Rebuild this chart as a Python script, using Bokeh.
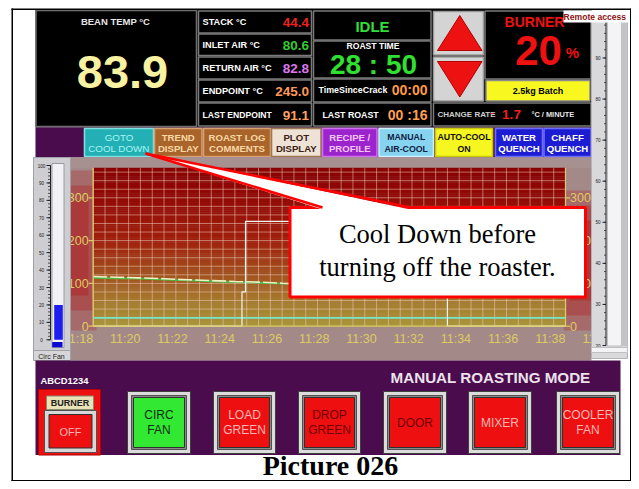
import numpy as np
from bokeh.plotting import figure
from bokeh.models import Range1d
from bokeh.embed import file_html
from bokeh.resources import INLINE
from bokeh.core.properties import value

# ---------------- data ----------------
trend_tick_minutes = [678, 680, 682, 684, 686, 688, 690, 692, 694, 696, 698, 700]
trend_tick_labels = ["11:18", "11:20", "11:22", "11:24", "11:26", "11:28",
                     "11:30", "11:32", "11:34", "11:36", "11:38", "11:40"]
temp_ticks = [0, 100, 200, 300]
temp_tick_labels = ["0", "100", "200", "300"]

bean_time = [678.0, 679.0, 680.0, 681.0, 682.0, 683.0, 684.0, 685.0, 686.0,
             687.0, 688.0, 690.0, 692.0, 694.0, 696.0, 698.0]
bean_temp = [116, 114.5, 113, 111, 108.5, 106.5, 104.5, 103, 100.5, 98.5,
             97, 94, 91, 88, 86, 84]
inlet_temp = [113, 112, 111, 109, 107, 105, 103, 101.5, 99.5, 98,
              96, 93, 89, 86, 83, 80.6]
fan_time = [678.0, 698.0]
fan_level = [19.5, 19.5]
setpoint_time = [678.0, 684.3, 684.3, 684.45, 684.45, 693.0, 693.0, 698.0]
setpoint_temp = [0, 0, 80, 80, 245, 245, 0, 0]

readout_labels = ["STACK °C", "INLET AIR °C", "RETURN AIR °C", "ENDPOINT °C", "LAST ENDPOINT"]
readout_values = ["44.4", "80.6", "82.8", "245.0", "91.1"]
readout_colors = ["#ee2020", "#33cc33", "#dd77ee", "#ff9955", "#ffa060"]

bean_temp_now = "83.9"
roast_state = "IDLE"
roast_time = "28 : 50"
time_since_crack = "00:00"
last_roast = "00 :16"
burner_percent = "20"
batch_label = "2.5kg Batch"
change_rate = "1.7"

top_buttons = ["GOTO\nCOOL DOWN", "TREND\nDISPLAY", "ROAST LOG\nCOMMENTS", "PLOT\nDISPLAY",
               "RECIPE /\nPROFILE", "MANUAL\nAIR-COOL", "AUTO-COOL\nON", "WATER\nQUENCH", "CHAFF\nQUENCH"]
bottom_buttons = ["CIRC\nFAN", "LOAD\nGREEN", "DROP\nGREEN", "DOOR", "MIXER", "COOLER\nFAN"]

circ_fan_percent = 20
left_gauge_ticks = [0, 10, 20, 30, 40, 50, 60, 70, 80, 90, 100]
right_gauge_ticks = [20, 30, 40, 50, 60, 70, 80, 90, 100]

# ---------------- layout / style ----------------
W, H = 631, 481
X0, X1, Y0, Y1 = 0, 631, 0, 481
FONT = value("Liberation Sans")
SERIF = value("Liberation Serif")

# chart placement (page pixels)
PL, PR, PB = 92.7, 565.0, 325.7
T0, T1 = 678.0, 698.0
PPM = (PR - PL) / (T1 - T0)
PPV = 0.428
VMAX = 370.0

p = figure(width=W, height=H, x_range=Range1d(X0, X1), y_range=Range1d(Y1, Y0),
           output_backend="svg", toolbar_location=None, min_border=0,
           x_axis_location=None, y_axis_location=None)
p.grid.visible = False
p.outline_line_color = None
p.background_fill_color = "white"
p.border_fill_color = "white"

p.extra_x_ranges = {"t": Range1d(T0 - (PL - X0) / PPM, T0 + (X1 - PL) / PPM)}
p.extra_y_ranges = {
    "v": Range1d((PB - Y1) / PPV, (PB - Y0) / PPV),
    "gl": Range1d((339.3 - Y1) / 1.743, (339.3 - Y0) / 1.743),
    "gr": Range1d(20 - (Y1 - 345.0) / 4.1075, 20 + (345.0 - Y0) / 4.1075),
}


def box(l, r, t, b, fill, line=None, lw=1.0, alpha=1.0):
    p.quad(left=[l], right=[r], top=[t], bottom=[b], fill_color=fill, fill_alpha=alpha,
           line_color=line, line_width=lw)


def txt(x, y, s, size, color, align="center", bold=True, font=FONT, **kw):
    p.text(x=[x], y=[y], text=[s], text_font=font, text_font_size=f"{size}px",
           text_color=color, text_align=align, text_baseline="middle",
           text_font_style="bold" if bold else "normal", **kw)


def txt2(x, y, s, size, color, gap, bold=True):
    lines = s.split("\n")
    n = len(lines)
    for i, ln in enumerate(lines):
        txt(x, y + (i - (n - 1) / 2) * gap, ln, size, color, bold=bold)


# ---------------- top black panel ----------------
box(35, 591, 9.5, 127, "black")
box(35.5, 196, 10, 126, "black", "#707070", 1.5)
txt(115, 20.5, "BEAN TEMP °C", 9.5, "#e6e6e6")
txt(122, 71, bean_temp_now, 47, "#f8f2a2")

rows = [(10.5, 32.5), (33.5, 55), (56.5, 78.5), (79.5, 101.5), (102.5, 125.5)]
for (t, b), lab, val, col in zip(rows, readout_labels, readout_values, readout_colors):
    box(198, 311, t, b, "black", "#7a7a7a", 1.5)
    c = (t + b) / 2
    txt(202, c, lab, 8.6 if lab == "LAST ENDPOINT" else 9.2, "white", align="left")
    txt(308.5, c + 0.5, val, 13.5, col, align="right")

box(313, 430.5, 10.5, 39.5, "black", "#7a7a7a", 1.5)
txt(372, 26, roast_state, 15, "#33dd33")
box(313, 430.5, 40.5, 77.5, "black", "#7a7a7a", 1.5)
txt(372.5, 45.5, "ROAST TIME", 8.6, "white")
txt(373, 64, roast_time, 28, "#30e030")
box(313, 430.5, 78.5, 101.5, "black", "#7a7a7a", 1.5)
txt(318, 89.5, "TimeSinceCrack", 8.9, "white", align="left")
txt(427, 89.5, time_since_crack, 14, "#ff9a40", align="right")
box(313, 430.5, 102.5, 125.5, "black", "#7a7a7a", 1.5)
txt(322, 114, "LAST ROAST", 8.8, "white", align="left")
txt(427, 114, last_roast, 14, "#ffa050", align="right")

# arrow buttons
box(433, 483, 11, 54.5, "#d4d4d4", "#9a9a9a", 1.5)
box(433, 483, 56.5, 100.5, "#d4d4d4", "#9a9a9a", 1.5)
p.patch([437, 481.5, 459.3], [50, 50, 15], fill_color="#ee1111", line_color="#b00000")
p.patch([437, 481.5, 459.3], [61, 61, 96.5], fill_color="#ee1111", line_color="#b00000")

# burner panel
box(484.5, 590.5, 10.5, 78.5, "black", "#7a7a7a", 1.5)
txt(534, 21.5, "BURNER", 14, "#ee1111")
txt(538, 49.5, burner_percent, 42, "#ee1111")
txt(572, 52, "%", 15, "#ee1111")
box(485.5, 589.5, 80, 100.5, "#f8f820", "#8a8a8a", 1.5)
txt(537.5, 90.5, batch_label, 9, "black")
box(433, 590.5, 102.5, 125.5, "black", "#7a7a7a", 1.5)
txt(437, 113.5, "CHANGE RATE", 8, "#cfcfcf", align="left")
txt(491.5, 112, "-", 9, "#ee2020")
txt(511, 114, change_rate, 13.5, "#ee2020")
txt(531, 113.5, "°C / MINUTE", 7.4, "#e6e6e6", align="left")

# ---------------- button row ----------------
box(35, 591, 127, 157, "#4a0c4c")
btn_x = [(84, 153), (154, 201.5), (203, 270), (271, 320.5), (322, 376.5),
         (378.5, 433), (435, 492), (495, 542), (543.5, 590.5)]
btn_fill = ["#22b0b4", "#a8642a", "#a8642a", "#eee2d6", "#9c24cc",
            "#86d4f0", "#f6f620", "#1c1cd2", "#1c1cd2"]
btn_edge = ["#7de0e0", "#d8a070", "#d8a070", "#a07850", "#d070f0",
            "#d0f0ff", "#c8c800", "#6c6cff", "#6c6cff"]
btn_text = ["#a6f4f4", "#fad8a6", "#fad8a6", "#3a2010", "#f4c6f8",
            "#102040", "#111111", "#ffffff", "#ffffff"]
for (l, r), lab, f, e, tc in zip(btn_x, top_buttons, btn_fill, btn_edge, btn_text):
    box(l, r, 128, 156, f, e, 1.6)
    bold = lab not in ("GOTO\nCOOL DOWN",)
    size = 9.6 if bold else 9.8
    if lab.startswith("MANUAL") or lab.startswith("AUTO"):
        size = 8.8
    txt2((l + r) / 2, 142.3, lab, size, tc, 11.5, bold=bold)

# ---------------- chart panel ----------------
box(70, 591, 157, 360, "#a48989")
for a, (l, r, t, b) in zip([0.25, 0.3, 0.35],
                           [(70, 96, 170, 330), (70, 92, 185, 310), (70, 88, 200, 295)]):
    box(l, r, t, b, "#b01010", alpha=a)
for a, (l, r, t, b) in zip([0.25, 0.3, 0.35],
                           [(563, 591, 190, 330), (566, 591, 205, 315), (569, 591, 220, 300)]):
    box(l, r, t, b, "#b01010", alpha=a)
box(70, 591, 157, 168, "#a89494", alpha=0.6)

# plot-area gradient (styling)
stops_v = [0, 60, 120, 200, 300, VMAX]
stops_c = [(168, 150, 60), (166, 122, 46), (162, 82, 30), (160, 32, 12), (146, 10, 6), (136, 3, 3)]
band_lo = np.arange(0, VMAX, 5.0)
cols = []
for v in band_lo + 2.5:
    rgb = [int(round(np.interp(v, stops_v, [c[k] for c in stops_c]))) for k in range(3)]
    cols.append("#%02x%02x%02x" % tuple(rgb))
p.quad(left=T0, right=T1, bottom=band_lo, top=np.minimum(band_lo + 5.6, VMAX), fill_color=cols,
       line_color=None, x_range_name="t", y_range_name="v")

# grid
gx = np.arange(T0, T1 + 0.01, 0.5)
p.segment(x0=gx, x1=gx, y0=0, y1=VMAX, line_color="#f4d2c0", line_alpha=0.5, line_width=1,
          x_range_name="t", y_range_name="v")
gy = np.arange(20, VMAX, 20.0)
p.segment(x0=T0, x1=T1, y0=gy, y1=gy, line_color="#f4d2c0", line_alpha=0.5, line_width=1,
          x_range_name="t", y_range_name="v")

# series
p.line(fan_time, fan_level, line_color="#78e4c8", line_width=1.6, x_range_name="t", y_range_name="v")
p.line(bean_time, inlet_temp, line_color="#4cb848", line_width=1.8, x_range_name="t", y_range_name="v")
p.line(bean_time, bean_temp, line_color="#f2f0c4", line_width=1.6, line_dash="14 3",
       x_range_name="t", y_range_name="v")
p.line(setpoint_time, setpoint_temp, line_color="#f4f4f0", line_width=1.2,
       x_range_name="t", y_range_name="v")

# axes
AX = "#dccb62"
p.segment(x0=[T0, T1, T0], x1=[T0, T1, T1], y0=[0, 0, 0], y1=[VMAX, VMAX, 0],
          line_color=AX, line_width=1.2, x_range_name="t", y_range_name="v")
tk = 4.5 / PPM
p.segment(x0=T0 - tk, x1=T0, y0=temp_ticks, y1=temp_ticks, line_color=AX, line_width=1.2,
          x_range_name="t", y_range_name="v")
p.segment(x0=T1, x1=T1 + tk, y0=temp_ticks, y1=temp_ticks, line_color=AX, line_width=1.2,
          x_range_name="t", y_range_name="v")
p.text(x=T0 - tk, y=temp_ticks, text=temp_tick_labels, text_font=FONT, text_font_size="12.5px",
       text_color=AX, text_align="right", text_baseline="middle", x_range_name="t", y_range_name="v")
p.text(x=T1 + tk, y=temp_ticks, text=temp_tick_labels, text_font=FONT, text_font_size="12.5px",
       text_color=AX, text_align="left", text_baseline="middle", x_range_name="t", y_range_name="v")
p.text(x=trend_tick_minutes, y=-12.8 / PPV, text=trend_tick_labels, text_font=FONT,
       text_font_size="12.5px", text_color=AX, text_align="right", text_baseline="middle",
       x_range_name="t", y_range_name="v")

# ---------------- left gauge (Circ Fan) ----------------
box(33, 70, 157, 350, "#cdcdd2", "#a0a0a8", 1)
box(51.5, 63.5, 163, 347, "#f2f2f6", "#9a9aa2", 1)
p.quad(left=53.7, right=62.3, bottom=0, top=[circ_fan_percent], fill_color="#1e1ef0",
       line_color=None, y_range_name="gl")
box(51.7, 62, 341.5, 346.8, "#0a0ad0")
minor = np.arange(0, 101, 2)
p.segment(x0=47.5, x1=50, y0=minor, y1=minor, line_color="#303030", line_width=0.8, y_range_name="gl")
p.segment(x0=46, x1=50, y0=left_gauge_ticks, y1=left_gauge_ticks, line_color="#202020",
          line_width=1, y_range_name="gl")
p.segment(x0=[50], x1=[50], y0=[0], y1=[100], line_color="#202020", line_width=1, y_range_name="gl")
p.text(x=41, y=left_gauge_ticks, text=[str(v) for v in left_gauge_ticks], text_font=FONT,
       text_font_size="4.6px", text_color="#202020", text_align="center", text_baseline="middle",
       y_range_name="gl")
box(33, 70, 350, 360, "#d6d6d8", "#a0a0a8", 1)
txt(51, 355.5, "Circ Fan", 7, "#202020", bold=False)

# ---------------- right gauge ----------------
box(591, 627, 14, 358, "#d9d9dc", "#b4b4b8", 1)
box(607, 621, 17, 345.5, "#f4f4f6", "#c0c0c4", 1)
box(621, 627, 17, 345.5, "#c4c4c8")
rminor = np.arange(20, 101, 2)
p.segment(x0=603.5, x1=605.5, y0=rminor, y1=rminor, line_color="#303030", line_width=0.8, y_range_name="gr")
p.segment(x0=602, x1=605.5, y0=right_gauge_ticks, y1=right_gauge_ticks, line_color="#202020",
          line_width=1, y_range_name="gr")
p.segment(x0=[605.5], x1=[605.5], y0=[20], y1=[100], line_color="#202020", line_width=1, y_range_name="gr")
p.text(x=597.5, y=right_gauge_ticks, text=[str(v) for v in right_gauge_ticks], text_font=FONT,
       text_font_size="4.6px", text_color="#202020", text_align="center", text_baseline="middle",
       y_range_name="gr")
box(591, 627, 347, 352, "#f4f4f6", "#c0c0c4", 1)
box(563, 628, 10, 22, "white")
txt(563, 16.5, "Remote access", 8.6, "#8b1212", align="left")

# ---------------- bottom panel ----------------
box(35, 620, 360, 454.5, "#4a0c4c")
txt(40, 380, "ABCD1234", 9.4, "white", align="left")
txt(590, 376.5, "MANUAL ROASTING MODE", 15.2, "#ece2ec", align="right")

# burner on/off
box(38, 100, 389, 454.5, "#ee1010", "#b00000", 1)
box(46, 93, 395.5, 409, "#e8e2b6", "#8a8a70", 1)
txt(69.5, 402.5, "BURNER", 9, "#202020")
box(44, 96, 410, 452, "#d8d8d8", "#505050", 1)
box(48.5, 91.5, 414, 447.5, "#ee1010", "#303030", 1)
txt(70, 431, "OFF", 11, "#ffb4b4", bold=False)

bb_x = [(127, 190), (213, 275), (298, 360), (383, 446), (468, 531), (556, 619)]
bb_fill = ["#33e833", "#ee1010", "#ee1010", "#ee1010", "#ee1010", "#ee1010"]
bb_text = ["#103010", "#ffb4b4", "#700000", "#700000", "#ffb4b4", "#ffb4b4"]
for (l, r), lab, f, tc in zip(bb_x, bottom_buttons, bb_fill, bb_text):
    box(l, r, 391, 453, "#dcdcdc", "#404040", 1)
    box(l + 4, r - 4, 395, 449, "#8a8a8a", "#505050", 1)
    box(l + 6, r - 6, 397, 447, f, "#303030", 1)
    txt2((l + r) / 2, 422, lab, 12, tc, 14.5, bold=False)

# ---------------- callout ----------------
box(289.5, 585, 207, 296.5, "white", "#ff0000", 3)
p.patch([145, 322, 410], [153, 209, 209], fill_color="white", line_color=None)
p.line([145, 322], [153, 207], line_color="#ff0000", line_width=2.5)
p.line([145, 410], [153, 207], line_color="#ff0000", line_width=2.5)
txt(437, 233, "Cool Down before", 26.5, "black", bold=False, font=SERIF)
txt(437, 266.5, "turning off the roaster.", 26.5, "black", bold=False, font=SERIF)

# ---------------- caption and frame ----------------
txt(330, 465, "Picture 026", 28, "black", font=SERIF)
box(11, 12.5, 8, 481, "black")
box(11, 631, 8, 9.5, "black")
box(629.5, 631, 8, 481, "black")
box(11, 631, 479.5, 481, "black")

open("out.html", "w").write(file_html(p, INLINE))
